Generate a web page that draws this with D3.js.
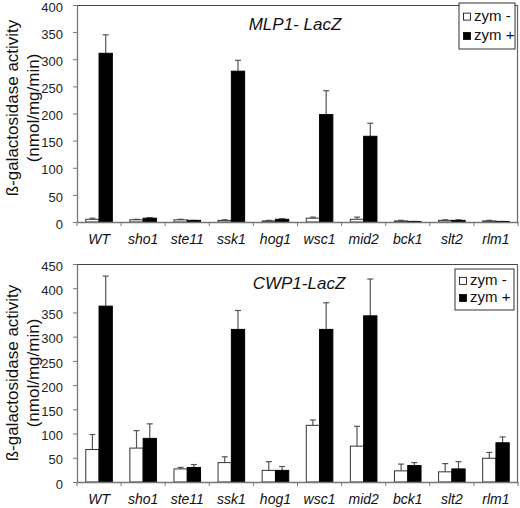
<!DOCTYPE html>
<html>
<head>
<meta charset="utf-8">
<script src="https://cdn.jsdelivr.net/npm/d3@7"></script>
<style>
  html, body { margin: 0; padding: 0; background: #fff; }
  svg { display: block; font-family: Arial, "Liberation Sans", sans-serif; }
</style>
</head>
<body>
<svg id="chart" width="520" height="508"></svg>
<script>
const categories = ["WT", "sho1", "ste11", "ssk1", "hog1", "wsc1", "mid2", "bck1", "slt2", "rlm1"];
const seriesNames = ["zym -", "zym +"];

// Top panel: MLP1- LacZ
const mlpMinus    = [5, 4, 4, 3, 2, 7, 5, 2, 3, 2];
const mlpMinusErr = [2, 1, 1, 1, 1, 2, 4, 1, 1, 1];
const mlpPlus     = [311, 7, 3, 278, 5, 198, 158, 1, 3, 1];
const mlpPlusErr  = [34, 1, 0, 20, 1, 44, 24, 0, 1, 0];
const mlpTicks    = [0, 50, 100, 150, 200, 250, 300, 350, 400];

// Bottom panel: CWP1-LacZ
const cwpMinus    = [67, 70, 27, 40, 24, 117, 74, 23, 21, 49];
const cwpMinusErr = [31, 36, 3, 12, 18, 11, 41, 14, 17, 12];
const cwpPlus     = [363, 90, 30, 315, 24, 315, 343, 34, 27, 81];
const cwpPlusErr  = [62, 30, 6, 39, 8, 55, 76, 6, 15, 12];
const cwpTicks    = [0, 50, 100, 150, 200, 250, 300, 350, 400, 450];

const svg = d3.select("#chart");

function panel(cfg) {
  const g = svg.append("g");
  const x = d3.scaleBand().domain(categories).range([cfg.left, cfg.right]).paddingInner(0).paddingOuter(0);
  const xs = d3.scaleBand().domain(seriesNames).range([0, x.bandwidth()]).paddingInner(0).paddingOuter(0.66);
  const y = d3.scaleLinear().domain([0, cfg.max]).range([cfg.bottom, cfg.top]);

  // plot border top & right
  g.append("line").attr("x1", cfg.left).attr("x2", cfg.right).attr("y1", cfg.top + 0.5).attr("y2", cfg.top + 0.5)
    .attr("stroke", "#444").attr("stroke-width", 1.2);
  g.append("line").attr("x1", cfg.right - 0.5).attr("x2", cfg.right - 0.5).attr("y1", cfg.top).attr("y2", cfg.bottom)
    .attr("stroke", "#666").attr("stroke-width", 1.2);

  const data = categories.map((c, i) => ({
    cat: c,
    vals: [
      { s: seriesNames[0], v: cfg.minus[i], e: cfg.minusErr[i] },
      { s: seriesNames[1], v: cfg.plus[i], e: cfg.plusErr[i] }
    ]
  }));

  const grp = g.selectAll("g.cat").data(data).enter().append("g")
    .attr("class", "cat").attr("transform", d => `translate(${x(d.cat)},0)`);

  // error bars (up only)
  const eb = grp.selectAll("g.err").data(d => d.vals).enter().append("g").attr("class", "err");
  eb.append("line")
    .attr("x1", d => xs(d.s) + xs.bandwidth() / 2).attr("x2", d => xs(d.s) + xs.bandwidth() / 2)
    .attr("y1", d => y(d.v)).attr("y2", d => y(d.v + d.e))
    .attr("stroke", "#555").attr("stroke-width", 1.2);
  eb.append("line")
    .attr("x1", d => xs(d.s) + xs.bandwidth() / 2 - 3).attr("x2", d => xs(d.s) + xs.bandwidth() / 2 + 3)
    .attr("y1", d => y(d.v + d.e)).attr("y2", d => y(d.v + d.e))
    .attr("stroke", "#555").attr("stroke-width", 1.2);

  grp.selectAll("rect").data(d => d.vals).enter().append("rect")
    .attr("x", d => xs(d.s))
    .attr("y", d => y(d.v))
    .attr("width", xs.bandwidth())
    .attr("height", d => y(0) - y(d.v))
    .attr("fill", d => d.s === seriesNames[0] ? "#fff" : "#000")
    .attr("stroke", d => d.s === seriesNames[0] ? "#333" : "#000")
    .attr("stroke-width", 1);

  // y axis
  const ya = g.append("g").attr("transform", `translate(${cfg.left},0)`)
    .call(d3.axisLeft(y).tickValues(cfg.ticks).tickSize(4).tickSizeOuter(0).tickFormat(d3.format("d")));
  ya.select(".domain").attr("stroke", "#777").attr("stroke-width", 1.3);
  ya.selectAll(".tick line").attr("stroke", "#777");
  ya.selectAll(".tick text").attr("font-size", 13).attr("fill", "#222")
    .attr("font-family", "Arial, 'Liberation Sans', sans-serif").attr("dx", -7).attr("y", 2);

  // x axis
  const xa = g.append("g").attr("transform", `translate(0,${cfg.bottom})`)
    .call(d3.axisBottom(x).tickSize(0).tickSizeOuter(0));
  xa.select(".domain").attr("stroke", "#777").attr("stroke-width", 1.3);
  xa.selectAll(".tick text").attr("font-size", 14).attr("font-style", "italic").attr("fill", "#111")
    .attr("font-family", "Arial, 'Liberation Sans', sans-serif").attr("dy", "1.35em");
  // boundary ticks
  g.selectAll("line.bt").data(categories.concat(["__end"])).enter().append("line")
    .attr("class", "bt")
    .attr("x1", d => d === "__end" ? cfg.right : x(d)).attr("x2", d => d === "__end" ? cfg.right : x(d))
    .attr("y1", cfg.bottom).attr("y2", cfg.bottom + 4)
    .attr("stroke", "#777").attr("stroke-width", 1);

  // y title
  const yt = g.append("text").attr("transform", `translate(18,${cfg.ytCy}) rotate(-90)`)
    .attr("text-anchor", "middle").attr("font-size", 17).attr("fill", "#111");
  yt.append("tspan").attr("x", 0).attr("dy", 0).text("ß-galactosidase activity");
  yt.append("tspan").attr("x", 0).attr("dy", 21).text("(nmol/mg/min)");

  // chart title
  g.append("text").attr("x", cfg.titleX).attr("y", cfg.titleY).attr("text-anchor", "middle")
    .attr("font-size", 17).attr("font-style", "italic").attr("fill", "#111").text(cfg.title);

  // legend
  const lg = g.append("g");
  lg.append("rect").attr("x", cfg.legX).attr("y", cfg.legY).attr("width", cfg.legW).attr("height", cfg.legH)
    .attr("fill", "#fff").attr("stroke", "#333").attr("stroke-width", 1);
  seriesNames.forEach((s, i) => {
    const ry = cfg.legY + cfg.legH * (i === 0 ? 0.35 : 0.77);
    lg.append("rect").attr("x", cfg.legX + 4.5).attr("y", ry - 6).attr("width", 7).attr("height", 7)
      .attr("fill", i === 0 ? "#fff" : "#000").attr("stroke", "#000").attr("stroke-width", 0.8);
    lg.append("text").attr("x", cfg.legX + 15).attr("y", ry + 1.5).attr("font-size", 15).attr("fill", "#111").text(s);
  });
}

panel({
  left: 77, right: 518, top: 5, bottom: 222, max: 400, ticks: mlpTicks,
  minus: mlpMinus, minusErr: mlpMinusErr, plus: mlpPlus, plusErr: mlpPlusErr,
  title: "MLP1- LacZ", titleX: 295, titleY: 30, ytCy: 108,
  legX: 459, legY: 3, legW: 56, legH: 46
});
panel({
  left: 77, right: 518, top: 264, bottom: 482, max: 450, ticks: cwpTicks,
  minus: cwpMinus, minusErr: cwpMinusErr, plus: cwpPlus, plusErr: cwpPlusErr,
  title: "CWP1-LacZ", titleX: 299, titleY: 289, ytCy: 373,
  legX: 455, legY: 269, legW: 59, legH: 41
});
</script>
</body>
</html>
